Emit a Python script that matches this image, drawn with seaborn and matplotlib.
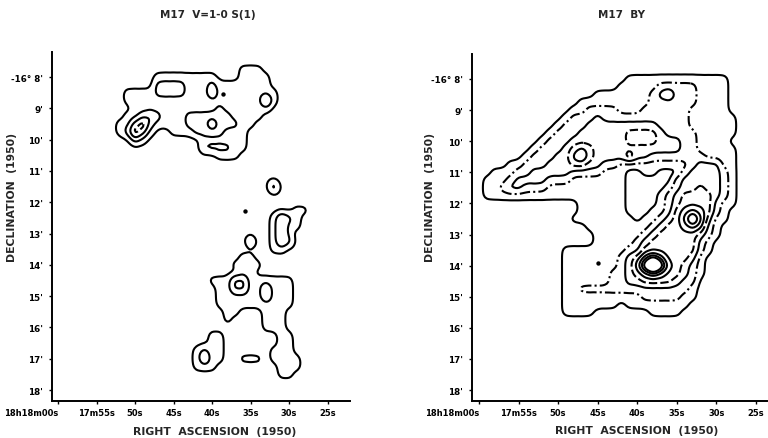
import numpy as np
import pandas as pd
import matplotlib
matplotlib.use("Agg")
import matplotlib.pyplot as plt
import seaborn as sns
from seaborn._statistics import KDE

sns.set_theme(style="ticks")
plt.rcParams["font.family"] = ["DejaVu Sans"]
plt.rcParams["font.weight"] = "bold"

# ---------------- data ----------------
# map grid: RA seconds after 18h17m (columns, east -> west), Dec arcmin south of -16 deg (rows)
ra_cols = [62 - k for k in range(42)]
dec_rows = [7.5 + 0.25 * k for k in range(43)]
SKY = 0.35  # background level of the map ('.')

# H2 v=1-0 S(1) map, intensity in contour units (base-36 digits), '|' every 10 columns
h2_map = [
    "..........|..........|..........|..........|..",
    "..........|..........|......111.|..........|..",
    "..........|.....11111|111...1111|..........|..",
    "..........|.....22221|1121111111|..........|..",
    "..........|.111122221|1131111111|1.........|..",
    "..........|.111111111|1111111114|1.........|..",
    "..........|..11111111|1112111111|..........|..",
    "..........|.112321112|222221111.|..........|..",
    "..........|1135211112|22422211..|..........|..",
    "..........|12531..111|2222111...|..........|..",
    "..........|..21......|.111111...|..........|..",
    "..........|..........|.222211...|..........|..",
    "..........|..........|...111....|..........|..",
    "..........|..........|..........|..........|..",
    "..........|..........|..........|..........|..",
    "..........|..........|..........|..........|..",
    "..........|..........|..........|3.........|..",
    "..........|..........|..........|..........|..",
    "..........|..........|..........|..........|..",
    "..........|..........|..........|...11.....|..",
    "..........|..........|..........|1321......|..",
    "..........|..........|..........|1311......|..",
    "..........|..........|..........|131.......|..",
    "..........|..........|.......2..|132.......|..",
    "..........|..........|..........|11........|..",
    "..........|..........|......11..|..........|..",
    "..........|..........|.....1111.|..........|..",
    "..........|..........|......11..|..........|..",
    "..........|..........|..11133111|111.......|..",
    "..........|..........|...1133113|111.......|..",
    "..........|..........|...1111113|111.......|..",
    "..........|..........|...1111111|111.......|..",
    "..........|..........|....11...1|11........|..",
    "..........|..........|....1....1|11........|..",
    "..........|..........|.........1|11........|..",
    "..........|..........|..11......|.11.......|..",
    "..........|..........|..11......|.11.......|..",
    "..........|..........|1211......|111.......|..",
    "..........|..........|1311..111.|1111......|..",
    "..........|..........|111.......|.111......|..",
    "..........|..........|..........|.11.......|..",
    "..........|..........|..........|..........|..",
    "..........|..........|..........|..........|..",
]

# Br-gamma map
brg_map = [
    "..........|..........|..........|..........|..",
    "..........|..........|..........|..........|..",
    "..........|..........|.111111111|1111......|..",
    "..........|..........|1111122222|1111......|..",
    "..........|.......111|1111234222|1111......|..",
    "..........|.....11111|1111222222|1111......|..",
    "..........|....112222|1112222221|1111......|..",
    "..........|...1222322|2222222221|11111.....|..",
    "..........|..12223333|3333322221|11111.....|..",
    "..........|.122233333|3444432222|11111.....|..",
    "..........|1222333333|3444433322|1111......|..",
    ".........1|2223454333|3333333322|11111.....|..",
    "........12|2233564333|3533222222|21111.....|..",
    "......1122|2333443322|1111111112|33311.....|..",
    "....111223|3333222211|1..11...23|33321.....|..",
    "...1112333|3222111111|1......233|33321.....|..",
    "...1123322|2111111111|1.....1233|43321.....|..",
    "...1111111|1111111111|1....12344|44321.....|..",
    "..........|.....11111|1....12344|44211.....|..",
    "..........|.....11111|1...112456|5421......|..",
    "..........|....111111|11.1123469|6311......|..",
    "..........|......1111|1111234456|521.......|..",
    "..........|.......111|1112344444|321.......|..",
    "..........|.......111|1123444444|21........|..",
    "..........|...1111111|1224444444|21........|..",
    "..........|...1111111|2346864443|1.........|..",
    "..........|...1111111|2359e95432|1.........|..",
    "..........|...1111112|2345654432|1.........|..",
    "..........|...1111112|2334444322|..........|..",
    "..........|...1122222|2222222221|..........|..",
    "..........|...1111111|1112222211|..........|..",
    "..........|...1111111|.11111111.|..........|..",
    "..........|...1111...|....1111..|..........|..",
]

h2_levels = [0.67, 1.5, 2.5, 3.5]
brg_levels = [0.67, 1.5, 2.5, 3.5, 4.5, 5.5, 6.5, 7.5]
h2_styles = ["solid", "solid", "solid", (0, (3, 1.5))]
brg_styles = ["solid", (0, (5, 1.5, 1, 1.5)), "solid", (0, (4, 1.5)),
              "solid", "solid", "solid", "solid"]

h2_star_ra = [38.6, 35.7]
h2_star_dec = [8.55, 12.27]
brg_star_ra = [44.9]
brg_star_dec = [13.9]

ra_ticks = [60, 55, 50, 45, 40, 35, 30, 25]
ra_labels = ["18h18m00s", "17m55s", "50s", "45s", "40s", "35s", "30s", "25s"]
dec_ticks = [8, 9, 10, 11, 12, 13, 14, 15, 16, 17, 18]
dec_labels = ["-16° 8'", "9'", "10'", "11'", "12'", "13'", "14'", "15'", "16'", "17'", "18'"]

TARGET = 0.6  # kernel sigma in map cells


def map_frame(rows):
    recs = []
    for i, dec in enumerate(dec_rows):
        row = rows[i].replace("|", "") if i < len(rows) else ""
        row = (row + "." * 42)[:42]
        for j, ch in enumerate(row):
            v = SKY if ch == "." else float(int(ch, 36))
            recs.append((ra_cols[j], dec, v))
    return pd.DataFrame(recs, columns=["ra", "dec", "flux"])


def bandwidth(df):
    w = df["flux"].to_numpy()
    neff = w.sum() ** 2 / (w ** 2).sum()
    cov = np.cov(np.vstack([df["ra"].to_numpy() / 1.0, df["dec"].to_numpy() / 0.25]), aweights=w)
    return TARGET / (neff ** (-1 / 6) * (cov[0, 0] * cov[1, 1]) ** 0.25)


def iso_props(df, bw, levels):
    dens, _ = KDE(bw_adjust=bw)(df["ra"], df["dec"], weights=df["flux"])
    unit = 1.0 / (df["flux"].sum() * 1.0 * 0.25)
    vals = dens.ravel()
    tot = vals.sum()
    props = []
    for lv in levels:
        thr = lv * unit
        if thr >= vals.max():
            break
        props.append(1.0 - vals[vals >= thr].sum() / tot)
    return props


fig = plt.figure(figsize=(7.68, 4.39), dpi=100)
axL = fig.add_axes([52 / 768, 1 - 402 / 439, (350 - 52) / 768, (402 - 53) / 439])
axR = fig.add_axes([472 / 768, 1 - 402 / 439, (767 - 472) / 768, (402 - 55) / 439])

panels = [
    (axL, h2_map, h2_levels, h2_styles, h2_star_ra, h2_star_dec, (60.78, 22.1)),
    (axR, brg_map, brg_levels, brg_styles, brg_star_ra, brg_star_dec, (60.88, 23.6)),
]

for ax, mp, levels, styles, sra, sdec, xlim in panels:
    df = map_frame(mp)
    bw = bandwidth(df)
    props = iso_props(df, bw, levels)
    sns.kdeplot(data=df, x="ra", y="dec", weights="flux", bw_adjust=bw,
                levels=props, color="black", linewidths=1.5,
                linestyles=styles[:len(props)], ax=ax)
    sns.scatterplot(x=sra, y=sdec, color="black", s=10, linewidth=0, ax=ax)
    ax.set_xlim(*xlim)
    ax.set_ylim(18.35, 7.2)
    ax.set_xticks(ra_ticks)
    ax.set_xticklabels(ra_labels, fontsize=6.0, fontweight="bold")
    ax.get_xticklabels()[0].set_horizontalalignment("right")
    ax.set_yticks(dec_ticks)
    ax.set_yticklabels(dec_labels, fontsize=6.3, fontweight="bold")
    ax.set_xlabel("")
    ax.set_ylabel("")
    ax.tick_params(axis="both", length=2.5, width=1, pad=2.5, colors="black")
    ax.tick_params(axis="y", pad=4)
    for s in ["left", "bottom"]:
        ax.spines[s].set_linewidth(1.4)
        ax.spines[s].set_color("black")
    sns.despine(ax=ax)
    ax.set_facecolor("white")

fig.text(208 / 768, 1 - 15 / 439, "M17  V=1-0 S(1)", ha="center", va="center", fontsize=7.5, fontweight="bold")
fig.text(622 / 768, 1 - 15 / 439, "M17  BY", ha="center", va="center", fontsize=7.5, fontweight="bold")
fig.text(215 / 768, 1 - 432 / 439, "RIGHT  ASCENSION  (1950)", ha="center", va="center", fontsize=7.8, fontweight="bold")
fig.text(637 / 768, 1 - 431 / 439, "RIGHT  ASCENSION  (1950)", ha="center", va="center", fontsize=7.8, fontweight="bold")
fig.text(12 / 768, 1 - 198 / 439, "DECLINATION  (1950)", ha="center", va="center", rotation=90, fontsize=7.8, fontweight="bold")
fig.text(430 / 768, 1 - 198 / 439, "DECLINATION  (1950)", ha="center", va="center", rotation=90, fontsize=7.8, fontweight="bold")

fig.savefig("out.png", dpi=100, facecolor="white")
